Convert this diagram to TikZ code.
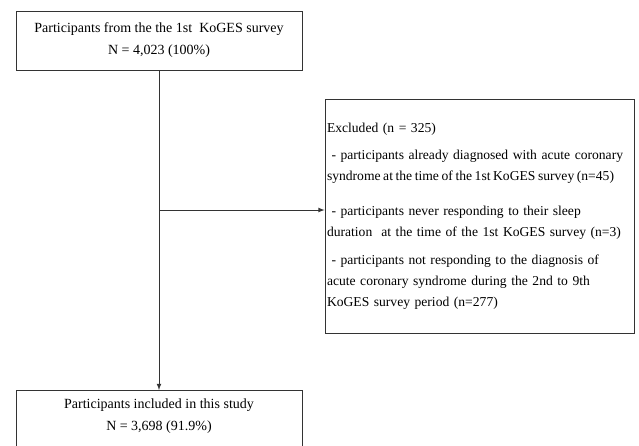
\documentclass[tikz,border=0pt]{standalone}
\usepackage{fontspec}
\setmainfont{Liberation Serif}

\begin{document}
\begin{tikzpicture}[x=0.75pt,y=-0.75pt,>=latex]
\tikzstyle{box}=[rectangle,draw=black!80,line width=0.6pt,align=center,minimum width=214.5pt,font=\fontsize{10.5}{16.5}\selectfont]
\tikzstyle{excl}=[rectangle,draw=black!80,line width=0.6pt,align=left,inner xsep=1.5pt,text width=228.75pt,minimum height=175.5pt,font=\fontsize{10.2}{15.75}\selectfont]
\tikzstyle{link}=[draw=black!80,line width=0.6pt]

\useasboundingbox (0,0) rectangle (639,446);

\node[box,minimum height=44.25pt] (start) at (159,40.5) {Participants from the the 1st~ KoGES survey\\N = 4,023 (100\%)};

\node[excl] (excluded) at (479.5,216) {Excluded (n = 325)\\[4.5pt]
~- participants already diagnosed with acute coronary\\
\mbox{\spaceskip=0.19em syndrome at the time of the 1st KoGES survey (n=45)}\\[10.5pt]
~- participants never responding to their sleep\\
duration~ at the time of the 1st KoGES survey (n=3)\\[5.25pt]
~- participants not responding to the diagnosis of\\
acute coronary syndrome during the 2nd to 9th\\
KoGES survey period (n=277)};

\node[box,anchor=north,inner ysep=6.6pt,text depth=15pt] (incl) at (159,390) {Participants included in this study\\N = 3,698 (91.9\%)};
\draw[->,link] (start.south) -- (incl.north);

\coordinate (split) at (159,210);
\draw[->,link] (split) -- (split -| excluded.west);

\end{tikzpicture}
\end{document}
